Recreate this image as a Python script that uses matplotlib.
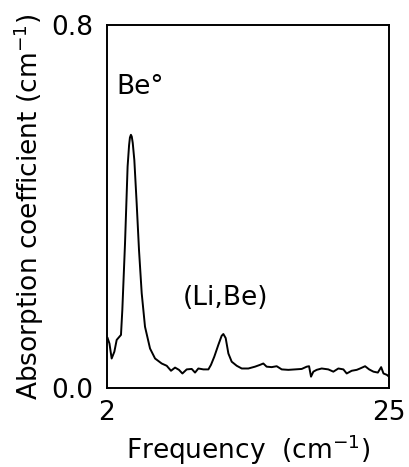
import numpy as np
import matplotlib.pyplot as plt

# spectrum
freq = [2.05, 2.2, 2.38, 2.6, 2.79, 2.98, 3.14, 3.25, 3.47, 3.68, 3.8, 3.87,
        3.95, 4.02, 4.1, 4.23, 4.42, 4.61, 4.83, 5.1, 5.51, 5.92, 6.46, 6.87,
        7.22, 7.55, 7.87, 8.15, 8.5, 8.91, 9.18, 9.45, 9.86, 10.27, 10.48,
        10.75, 11.08, 11.35, 11.49, 11.68, 11.9, 12.17, 12.58, 12.99, 13.53,
        14.07, 14.48, 14.75, 15.02, 15.43, 15.84, 16.25, 16.79, 17.34, 17.88,
        18.29, 18.48, 18.64, 18.83, 19.1, 19.51, 20.05, 20.46, 20.87, 21.28,
        21.55, 21.96, 22.37, 22.64, 23.05, 23.38, 23.73, 24.09, 24.36, 24.55,
        24.82, 25.0]
absorb = [0.110, 0.098, 0.065, 0.080, 0.106, 0.112, 0.117, 0.172, 0.319, 0.488,
          0.535, 0.552, 0.558, 0.554, 0.540, 0.502, 0.407, 0.304, 0.209, 0.135,
          0.087, 0.065, 0.054, 0.049, 0.038, 0.045, 0.040, 0.032, 0.041, 0.042,
          0.034, 0.043, 0.041, 0.041, 0.051, 0.069, 0.095, 0.115, 0.119, 0.110,
          0.076, 0.058, 0.049, 0.043, 0.043, 0.047, 0.051, 0.054, 0.047, 0.046,
          0.048, 0.041, 0.040, 0.041, 0.042, 0.047, 0.048, 0.025, 0.036, 0.040,
          0.043, 0.041, 0.036, 0.043, 0.041, 0.032, 0.038, 0.040, 0.043, 0.048,
          0.041, 0.036, 0.034, 0.046, 0.032, 0.029, 0.025]

plt.rcParams['font.family'] = ['DejaVu Sans']
plt.rcParams['mathtext.fontset'] = 'dejavusans'

fig = plt.figure(figsize=(4.09, 4.67), dpi=100)
ax = fig.add_axes([107/409, 1-388/467, 282/409, 363/467])

ax.plot(freq, absorb, color='black', lw=1.4)
ax.set_xlim(2, 25)
ax.set_ylim(0, 0.8)
ax.set_xticks([2, 25])
ax.set_xticklabels(['2', '25'])
ax.set_yticks([0.0, 0.8])
ax.set_yticklabels(['0.0', '0.8'])
ax.tick_params(length=0, labelsize=19)
ax.tick_params(axis='y', pad=10)
ax.tick_params(axis='x', pad=9)
for s in ax.spines.values():
    s.set_linewidth(1.4)

ax.set_xlabel('Frequency  (cm$^{-1}$)', fontsize=19, labelpad=4)
ax.set_ylabel('Absorption coefficient (cm$^{-1}$)', fontsize=19, labelpad=4)

ax.text(2.8, 0.663, 'Be°', fontsize=19, va='center')
ax.text(8.2, 0.198, '(Li,Be)', fontsize=19, va='center')

plt.savefig('out.png', dpi=100)
